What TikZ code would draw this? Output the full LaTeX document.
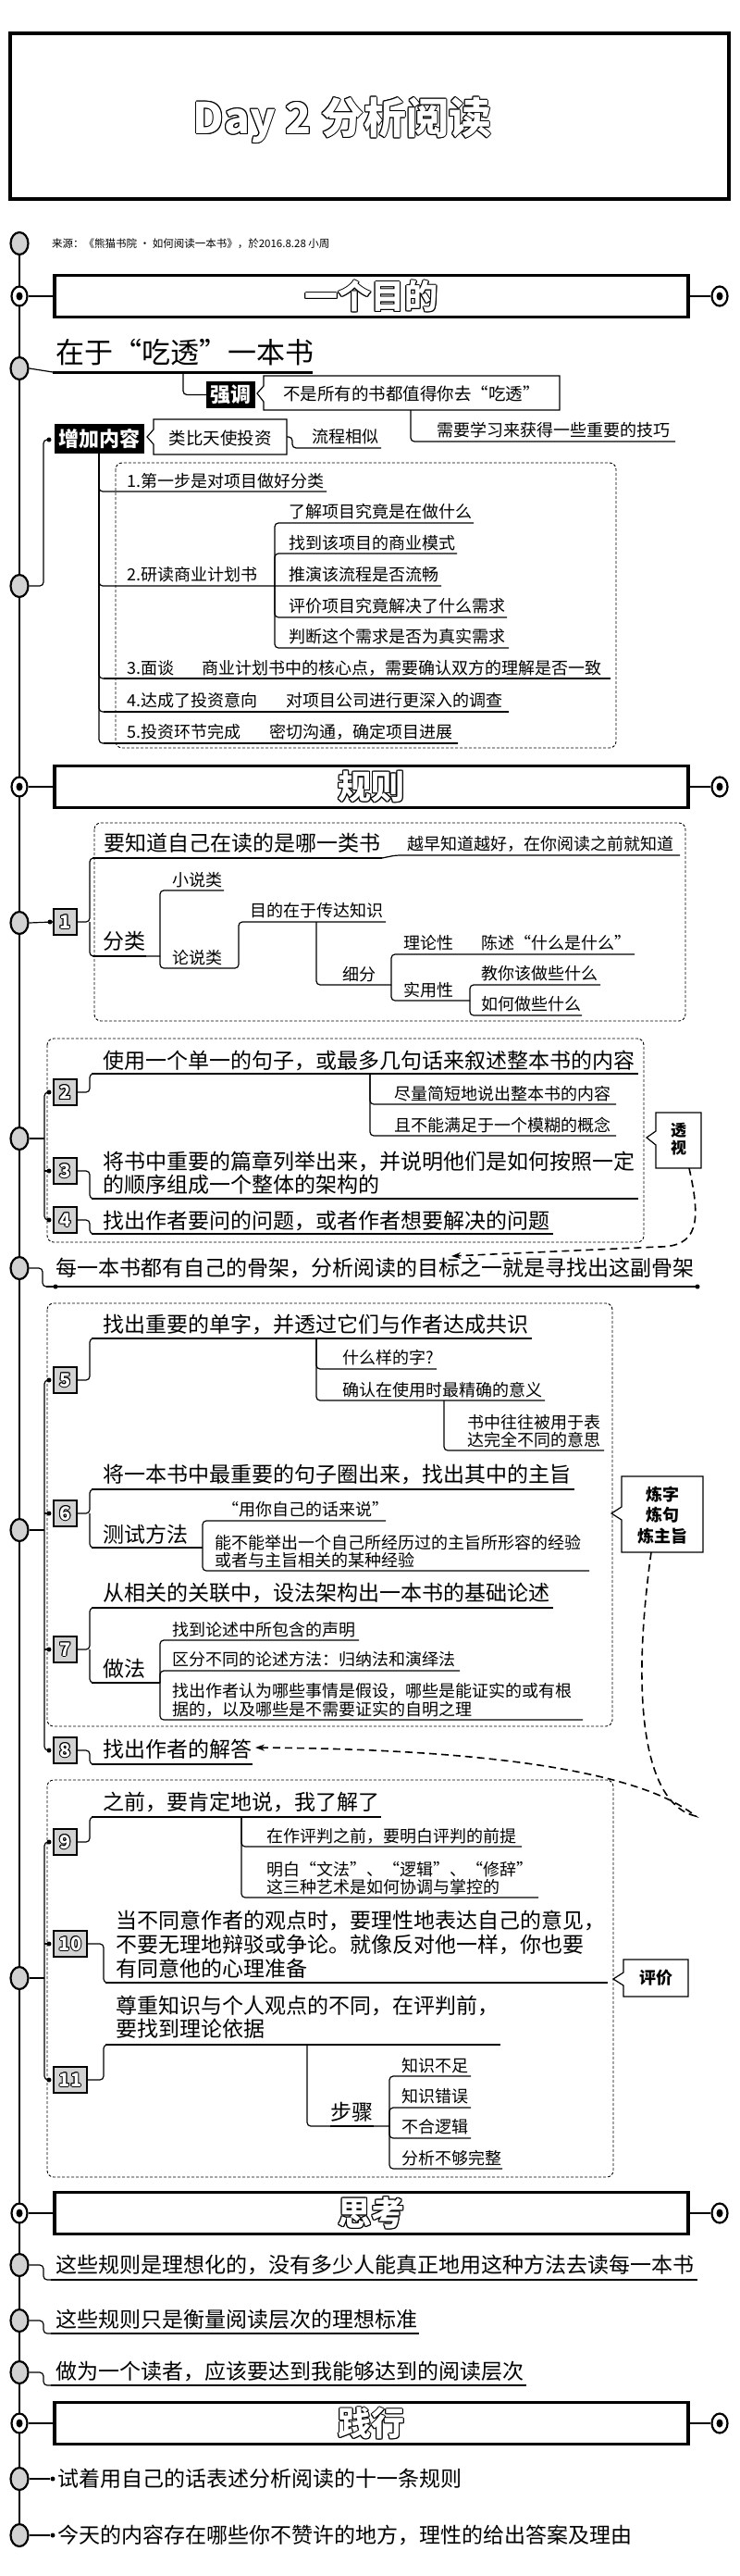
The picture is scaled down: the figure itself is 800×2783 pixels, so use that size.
\documentclass[tikz,border=0pt]{standalone}
\usepackage{fontspec}
\setmainfont{Noto Sans CJK SC}
\usetikzlibrary{arrows.meta,shapes.geometric}
\newcommand{\oltext}[5][1pt]{%
 \foreach \odx/\ody in {1/0,-1/0,0/1,0/-1,0.7/0.7,-0.7/0.7,0.7/-0.7,-0.7/-0.7}{%
  \node[inner sep=0pt, font=#4, text=black, xshift=\odx*#1, yshift=\ody*#1] at (#3) {#5};}%
 \node[inner sep=0pt, font=#4, text=white] (#2) at (#3) {#5};}
\tikzset{
 gc/.style={ellipse, draw, line width=2.2pt, fill=gray!35, minimum width=19pt, minimum height=24pt, inner sep=0pt},
 hc/.style={ellipse, draw, line width=2.2pt, fill=white, minimum width=17pt, minimum height=21pt, inner sep=0pt},
 hdr/.style={draw, line width=3.5pt, minimum width=685pt, minimum height=45pt, inner sep=0pt},
 badge/.style={draw, line width=2.4pt, fill=gray!35, minimum width=25pt, minimum height=28pt, inner sep=0pt},
 blk/.style={fill=black, text=white, inner sep=0pt, font=\bfseries\fontsize{22}{22}\selectfont},
 tx/.style={anchor=west, inner sep=0pt, align=left, font=\fontsize{23}{25}\selectfont},
 sx/.style={anchor=west, inner sep=0pt, align=left, font=\fontsize{18}{19.5}\selectfont},
 ul/.style={line width=2.7pt},
 mu/.style={line width=2pt},
 cn/.style={line width=1.2pt, rounded corners=4pt},
 co/.style={line width=1.2pt, fill=white},
 ctx/.style={inner sep=0pt, align=center, font=\bfseries\fontsize{18}{22.5}\selectfont},
 dbox/.style={line width=0.9pt, dash pattern=on 3pt off 2pt, rounded corners=7pt},
 dar/.style={line width=1.6pt, dash pattern=on 8pt off 5pt, -{Stealth[length=10pt,width=7pt]}},
 dot/.style={circle, fill=black, inner sep=0pt, minimum size=5pt},
 hline/.style={line width=1.5pt}
}
\newcommand{\hfont}{\bfseries\fontsize{36}{36}\selectfont}
\newcommand{\bfont}{\bfseries\fontsize{20}{20}\selectfont}
\begin{document}
\begin{tikzpicture}[x=1pt,y=-1pt]
\useasboundingbox (0,0) rectangle (800,2783);
\fill[white] (0,0) rectangle (800,2783);
% title
\node[draw, line width=3.5pt, minimum width=777pt, minimum height=179pt, inner sep=0pt] (title) at (399.5,125.5) {};
\oltext[1pt]{ttext}{370,130}{\bfseries\fontsize{46}{46}\selectfont}{Day 2 分析阅读}
% timeline
\draw[line width=2.5pt] (21,263) -- (21,2739);
% source
\node[gc] (c0) at (21,263) {};
\node[anchor=west, inner sep=0pt, font=\fontsize{11.5}{12}\selectfont] (src) at (56,263) {来源：《熊猫书院 · 如何阅读一本书》，於2016.8.28 小周};
% headers
\node[hdr] (h1) at (401.5,320) {};
\oltext{h1t}{h1.center}{\hfont}{一个目的}
\node[hc] (h1l) at (21,320) {}; \fill (h1l.center) ellipse [x radius=3.5pt, y radius=4.5pt];
\node[hc] (h1r) at (778,320) {}; \fill (h1r.center) ellipse [x radius=3.5pt, y radius=4.5pt];
\draw[hline] (h1l) -- (h1); \draw[hline] (h1) -- (h1r);
\node[hdr] (h2) at (401.5,850) {};
\oltext{h2t}{h2.center}{\hfont}{规则}
\node[hc] (h2l) at (21,850) {}; \fill (h2l.center) ellipse [x radius=3.5pt, y radius=4.5pt];
\node[hc] (h2r) at (778,850) {}; \fill (h2r.center) ellipse [x radius=3.5pt, y radius=4.5pt];
\draw[hline] (h2l) -- (h2); \draw[hline] (h2) -- (h2r);
\node[hdr] (h3) at (401.5,2391) {};
\oltext{h3t}{h3.center}{\hfont}{思考}
\node[hc] (h3l) at (21,2391) {}; \fill (h3l.center) ellipse [x radius=3.5pt, y radius=4.5pt];
\node[hc] (h3r) at (778,2391) {}; \fill (h3r.center) ellipse [x radius=3.5pt, y radius=4.5pt];
\draw[hline] (h3l) -- (h3); \draw[hline] (h3) -- (h3r);
\node[hdr] (h4) at (401.5,2618) {};
\oltext{h4t}{h4.center}{\hfont}{践行}
\node[hc] (h4l) at (21,2618) {}; \fill (h4l.center) ellipse [x radius=3.5pt, y radius=4.5pt];
\node[hc] (h4r) at (778,2618) {}; \fill (h4r.center) ellipse [x radius=3.5pt, y radius=4.5pt];
\draw[hline] (h4l) -- (h4); \draw[hline] (h4) -- (h4r);
% ===== section 1
\node[gc] (c2) at (21,398) {};
\node[anchor=west, inner sep=0pt, font=\fontsize{31}{31}\selectfont] (aim) at (60,381) {在于“吃透”一本书};
\draw[cn] (c2.east) -- (57,402);
\draw[line width=3pt] (57,402) -- (338,402);
\node[blk, minimum width=53pt, minimum height=29pt] (qd) at (249.5,426.5) {强调};
\draw[cn] (198,402) |- (qd.west);
\draw[co] (285,406) -- (605,406) -- (605,443) -- (285,443) -- (285,434) -- (278,425) -- (285,417) -- cycle;
\node[inner sep=0pt, font=\fontsize{18.5}{18.5}\selectfont] (qdt) at (445,425) {不是所有的书都值得你去“吃透”};
\draw[cn] (444,443) |- (730,477);
\node[sx] (need) at (472,465) {需要学习来获得一些重要的技巧};
\node[gc] (c3) at (21,633) {};
\node[blk, minimum width=97pt, minimum height=32pt] (zj) at (107.5,474) {增加内容};
\draw[cn] (c3.east) -- (47,633) -- (47,475) -- (53,475);
\node[dot] (dz) at (53,475) {};
\draw[co] (166,453) -- (310,453) -- (310,491) -- (166,491) -- (166,480) -- (159,472) -- (166,464) -- cycle;
\node[inner sep=0pt, font=\fontsize{18.5}{18.5}\selectfont] (lb) at (238,473) {类比天使投资};
\draw[cn] (310,472) -- (316,472) |- (412,484);
\node[sx] (lc) at (337,472) {流程相似};
\draw[dbox] (125,500) rectangle (666,808);
\draw[cn] (107,490) |- (353,531);
\node[sx] (i1) at (137,520) {1.第一步是对项目做好分类};
\draw[cn] (107,490) |- (477,633);
\node[sx] (i2) at (137,621) {2.研读商业计划书};
\draw[cn] (297,633) |- (512,565); \node[sx] (i21) at (312,553) {了解项目究竟是在做什么};
\draw[cn] (297,633) |- (494,598); \node[sx] (i22) at (312,587) {找到该项目的商业模式};
\node[sx] (i23) at (312,621) {推演该流程是否流畅};
\draw[cn] (297,633) |- (548,667); \node[sx] (i24) at (312,655) {评价项目究竟解决了什么需求};
\draw[cn] (297,633) |- (550,700); \node[sx] (i25) at (312,688) {判断这个需求是否为真实需求};
\draw[cn] (107,490) |- (660,733); \draw[mu] (112,733) -- (660,733);
\node[sx] (i3) at (137,722) {3.面谈\hspace{30pt}商业计划书中的核心点，需要确认双方的理解是否一致};
\draw[cn] (107,490) |- (550,769); \draw[mu] (112,769) -- (550,769);
\node[sx] (i4) at (137,757) {4.达成了投资意向\hspace{31pt}对项目公司进行更深入的调查};
\draw[cn] (107,490) |- (495,803); \draw[mu] (112,803) -- (495,803);
\node[sx] (i5) at (137,791) {5.投资环节完成\hspace{31pt}密切沟通，确定项目进展};
% ===== rule 1
\draw[dbox] (102,889) rectangle (741,1103);
\node[gc] (c4) at (21,997) {};
\node[badge] (b1) at (70.5,996) {};
\oltext[1pt]{b1t}{b1.center}{\bfont}{1}
\draw[cn] (c4.east) -- (b1.west);
\node[dot] (d1) at (54,996) {};
\draw[cn] (b1.east) -- (97,996) |- (413,927);
\draw[ul] (100,927) -- (413,927);
\node[tx] (r1) at (112,911) {要知道自己在读的是哪一类书};
\draw[cn] (413,927) -- (428,924) -- (735,924);
\node[sx] (r1b) at (440,912) {越早知道越好，在你阅读之前就知道};
\draw[cn] (97,996) |- (173,1033);
\draw[ul] (100,1033) -- (158,1033);
\node[tx] (fl) at (111,1017) {分类};
\draw[cn] (173,1033) |- (242,962);
\node[sx] (xs) at (186,951) {小说类};
\draw[cn] (173,1033) |- (258,1046) |- (417,996);
\node[sx] (ls) at (186,1035) {论说类};
\node[sx] (md) at (270,984) {目的在于传达知识};
\draw[cn] (342,996) |- (423,1064);
\node[sx] (xf) at (370,1053) {细分};
\draw[cn] (423,1064) |- (686,1031);
\node[sx] (ll) at (436,1019) {理论性};
\node[sx] (cs) at (520,1019) {陈述“什么是什么”};
\draw[cn] (423,1064) |- (508,1081);
\node[sx] (sy) at (436,1070) {实用性};
\draw[cn] (508,1081) |- (649,1064);
\node[sx] (jn) at (520,1052) {教你该做些什么};
\draw[cn] (508,1081) |- (629,1097);
\node[sx] (rh) at (520,1085) {如何做些什么};
% ===== rules 2-4
\draw[dbox] (51,1122) rectangle (696,1342);
\node[gc] (c5) at (21,1230) {};
\draw[cn] (c5.east) -- (48,1230);
\draw[cn] (53,1180) -- (48,1180) -- (48,1318) -- (53,1318);
\draw[cn] (48,1265) -- (53,1265);
\node[dot] (d2) at (53,1180) {};
\node[dot] (d3) at (53,1265) {};
\node[dot] (d4) at (53,1318) {};
\node[badge] (b2) at (70.5,1180) {};
\oltext[1pt]{b2t}{b2.center}{\bfont}{2}
\node[badge] (b3) at (70.5,1265) {};
\oltext[1pt]{b3t}{b3.center}{\bfont}{3}
\node[badge] (b4) at (70.5,1318) {};
\oltext[1pt]{b4t}{b4.center}{\bfont}{4}
\draw[cn] (b2.east) -- (97,1180) |- (110,1160);
\draw[ul] (99,1160) -- (690,1160);
\node[tx] (r2) at (111,1146) {使用一个单一的句子，或最多几句话来叙述整本书的内容};
\draw[cn] (400,1160) |- (666,1193); \node[sx] (r2a) at (426,1182) {尽量简短地说出整本书的内容};
\draw[cn] (400,1160) |- (666,1227); \node[sx] (r2b) at (426,1216) {且不能满足于一个模糊的概念};
\draw[cn] (b3.east) -- (97,1265) |- (110,1295);
\draw[ul] (99,1295) -- (690,1295);
\node[tx] (r3) at (111,1267) {将书中重要的篇章列举出来，并说明他们是如何按照一定\\的顺序组成一个整体的架构的};
\draw[cn] (b4.east) -- (97,1318) |- (110,1333);
\draw[ul] (99,1333) -- (598,1333);
\node[tx] (r4) at (111,1319) {找出作者要问的问题，或者作者想要解决的问题};
\draw[co] (709,1202) -- (758,1202) -- (758,1262) -- (709,1262) -- (709,1237) -- (699,1229) -- (709,1222) -- cycle;
\node[ctx, font=\bfseries\fontsize{17}{19}\selectfont] (tsx) at (733.5,1231) {透\\视};
\draw[dar] (745,1262) .. controls (758,1320) and (755,1347) .. (712,1347) -- (488,1357);
% skeleton
\node[gc] (c6) at (21,1370) {};
\draw[cn] (c6.east) -- (46,1370) -- (46,1390) -- (60,1390);
\draw[mu] (50,1390) -- (754,1390);
\node[dot] (d6a) at (60,1390) {};
\node[dot] (d6b) at (754,1390) {};
\node[tx] (gj) at (60,1370) {每一本书都有自己的骨架，分析阅读的目标之一就是寻找出这副骨架};
% ===== rules 5-8
\draw[dbox] (51,1408) rectangle (662,1865);
\node[gc] (c7) at (21,1653) {};
\draw[cn] (c7.east) -- (48,1653);
\draw[cn] (53,1491) -- (48,1491) -- (48,1891) -- (53,1891);
\draw[cn] (48,1635) -- (53,1635);
\draw[cn] (48,1782) -- (53,1782);
\node[dot] (d5) at (53,1491) {};
\node[dot] (d6) at (53,1635) {};
\node[dot] (d7) at (53,1782) {};
\node[dot] (d8) at (53,1891) {};
\node[badge] (b5) at (70.5,1491) {};
\oltext[1pt]{b5t}{b5.center}{\bfont}{5}
\node[badge] (b6) at (70.5,1635) {};
\oltext[1pt]{b6t}{b6.center}{\bfont}{6}
\node[badge] (b7) at (70.5,1782) {};
\oltext[1pt]{b7t}{b7.center}{\bfont}{7}
\node[badge] (b8) at (70.5,1891) {};
\oltext[1pt]{b8t}{b8.center}{\bfont}{8}
\draw[cn] (b5.east) -- (97,1491) |- (110,1446);
\draw[ul] (99,1446) -- (575,1446);
\node[tx] (r5) at (111,1431) {找出重要的单字，并透过它们与作者达成共识};
\draw[cn] (342,1446) |- (472,1479); \node[sx] (r5a) at (370,1467) {什么样的字?};
\draw[cn] (342,1446) |- (589,1513); \node[sx] (r5b) at (370,1502) {确认在使用时最精确的意义};
\draw[cn] (480,1513) |- (653,1567); \node[sx] (r5c) at (505,1546) {书中往往被用于表\\达完全不同的意思};
\draw[cn] (b6.east) -- (97,1635) |- (110,1609);
\draw[ul] (99,1609) -- (621,1609);
\node[tx] (r6) at (111,1593) {将一本书中最重要的句子圈出来，找出其中的主旨};
\draw[cn] (97,1635) |- (207,1672);
\draw[ul] (99,1672) -- (207,1672);
\node[tx] (r6m) at (111,1658) {测试方法};
\draw[cn] (207,1672) -- (219,1672);
\draw[cn] (219,1672) |- (417,1643); \node[sx] (r6a) at (240,1631) {“用你自己的话来说”};
\draw[cn] (219,1672) |- (637,1697); \node[sx] (r6b) at (232,1676) {能不能举出一个自己所经历过的主旨所形容的经验\\或者与主旨相关的某种经验};
\draw[cn] (b7.east) -- (97,1782) |- (110,1737);
\draw[ul] (99,1737) -- (598,1737);
\node[tx] (r7) at (111,1721) {从相关的关联中，设法架构出一本书的基础论述};
\draw[cn] (97,1782) |- (158,1818);
\draw[ul] (99,1818) -- (158,1818);
\node[tx] (r7m) at (111,1803) {做法};
\draw[cn] (158,1818) -- (173,1818);
\draw[cn] (173,1818) |- (388,1772); \node[sx] (r7a) at (186,1761) {找到论述中所包含的声明};
\draw[cn] (173,1818) |- (497,1805); \node[sx] (r7b) at (186,1793) {区分不同的论述方法：归纳法和演绎法};
\draw[cn] (173,1818) |- (630,1858); \node[sx] (r7c) at (186,1837) {找出作者认为哪些事情是假设，哪些是能证实的或有根\\据的，以及哪些是不需要证实的自明之理};
\draw[cn] (b8.east) -- (97,1891) |- (110,1906);
\draw[ul] (99,1906) -- (273,1906);
\node[tx] (r8) at (111,1890) {找出作者的解答};
\draw[co] (672,1595) -- (760,1595) -- (760,1677) -- (672,1677) -- (672,1642) -- (661,1635) -- (672,1628) -- cycle;
\node[ctx] (lz) at (716,1637) {炼字\\炼句\\炼主旨};
\draw[dar] (704,1677) .. controls (680,1850) and (700,1950) .. (752,1962) .. controls (700,1920) and (560,1890) .. (276,1888);
% ===== rules 9-11
\draw[dbox] (51,1923) rectangle (663,2352);
\node[gc] (c8) at (21,2137) {};
\draw[cn] (c8.east) -- (48,2137);
\draw[cn] (53,1990) -- (48,1990) -- (48,2247) -- (53,2247);
\draw[cn] (48,2100) -- (53,2100);
\node[dot] (d9) at (53,1990) {};
\node[dot] (d10) at (53,2100) {};
\node[dot] (d11) at (53,2247) {};
\node[badge] (b9) at (70.5,1990) {};
\oltext[1pt]{b9t}{b9.center}{\bfont}{9}
\node[badge, minimum width=36pt] (b10) at (76,2100) {};
\oltext[1pt]{b10t}{b10.center}{\bfont}{10}
\node[badge, minimum width=36pt] (b11) at (76,2247) {};
\oltext[1pt]{b11t}{b11.center}{\bfont}{11}
\draw[cn] (b9.east) -- (97,1990) |- (110,1963);
\draw[ul] (99,1963) -- (412,1963);
\node[tx] (r9) at (111,1947) {之前，要肯定地说，我了解了};
\draw[cn] (261,1963) |- (564,1995); \node[sx] (r9a) at (288,1984) {在作评判之前，要明白评判的前提};
\draw[cn] (261,1963) |- (582,2050); \node[sx] (r9b) at (288,2029) {明白“文法”、“逻辑”、“修辞”\\这三种艺术是如何协调与掌控的};
\draw[cn] (b10.east) -- (112,2100) |- (125,2142);
\draw[ul] (114,2142) -- (657,2142);
\node[tx, font=\fontsize{23}{26}\selectfont] (r10) at (125,2101) {当不同意作者的观点时，要理性地表达自己的意见，\\不要无理地辩驳或争论。就像反对他一样，你也要\\有同意他的心理准备};
\draw[cn] (b11.east) -- (112,2247) |- (125,2209);
\draw[ul] (114,2209) -- (541,2209);
\node[tx] (r11) at (125,2179) {尊重知识与个人观点的不同，在评判前，\\要找到理论依据};
\draw[cn] (332,2209) |- (421,2297);
\draw[ul] (357,2297) -- (404,2297);
\node[tx] (bz) at (357,2282) {步骤};
\draw[cn] (421,2297) |- (509,2243); \node[sx] (s1) at (434,2232) {知识不足};
\draw[cn] (421,2297) |- (509,2277); \node[sx] (s2) at (434,2265) {知识错误};
\draw[cn] (421,2297) |- (509,2310); \node[sx] (s3) at (434,2298) {不合逻辑};
\draw[cn] (421,2297) |- (543,2343); \node[sx] (s4) at (434,2332) {分析不够完整};
\draw[co] (674,2117) -- (744,2117) -- (744,2157) -- (674,2157) -- (674,2145) -- (663,2138) -- (674,2131) -- cycle;
\node[ctx] (pj) at (709,2137) {评价};
% ===== thinking
\node[gc] (t1c) at (21,2447) {};
\draw[cn] (t1c.east) -- (47,2447) -- (47,2463) -- (60,2463);
\draw[ul] (55,2463) -- (754,2463);
\node[tx] (t1) at (60,2447) {这些规则是理想化的，没有多少人能真正地用这种方法去读每一本书};
\node[gc] (t2c) at (21,2507) {};
\draw[cn] (t2c.east) -- (47,2507) -- (47,2521) -- (60,2521);
\draw[ul] (55,2521) -- (453,2521);
\node[tx] (t2) at (60,2506) {这些规则只是衡量阅读层次的理想标准};
\node[gc] (t3c) at (21,2563) {};
\draw[cn] (t3c.east) -- (47,2563) -- (47,2577) -- (60,2577);
\draw[ul] (55,2577) -- (569,2577);
\node[tx] (t3) at (60,2562) {做为一个读者，应该要达到我能够达到的阅读层次};
% ===== practice
\node[gc] (p1c) at (21,2678) {};
\node[dot] (p1d) at (57,2678) {};
\draw[cn] (p1c.east) -- (p1d);
\node[tx] (p1) at (62,2678) {试着用自己的话表述分析阅读的十一条规则};
\node[gc] (p2c) at (21,2739) {};
\node[dot] (p2d) at (57,2739) {};
\draw[cn] (p2c.east) -- (p2d);
\node[tx] (p2) at (62,2739) {今天的内容存在哪些你不赞许的地方，理性的给出答案及理由};
\end{tikzpicture}
\end{document}
